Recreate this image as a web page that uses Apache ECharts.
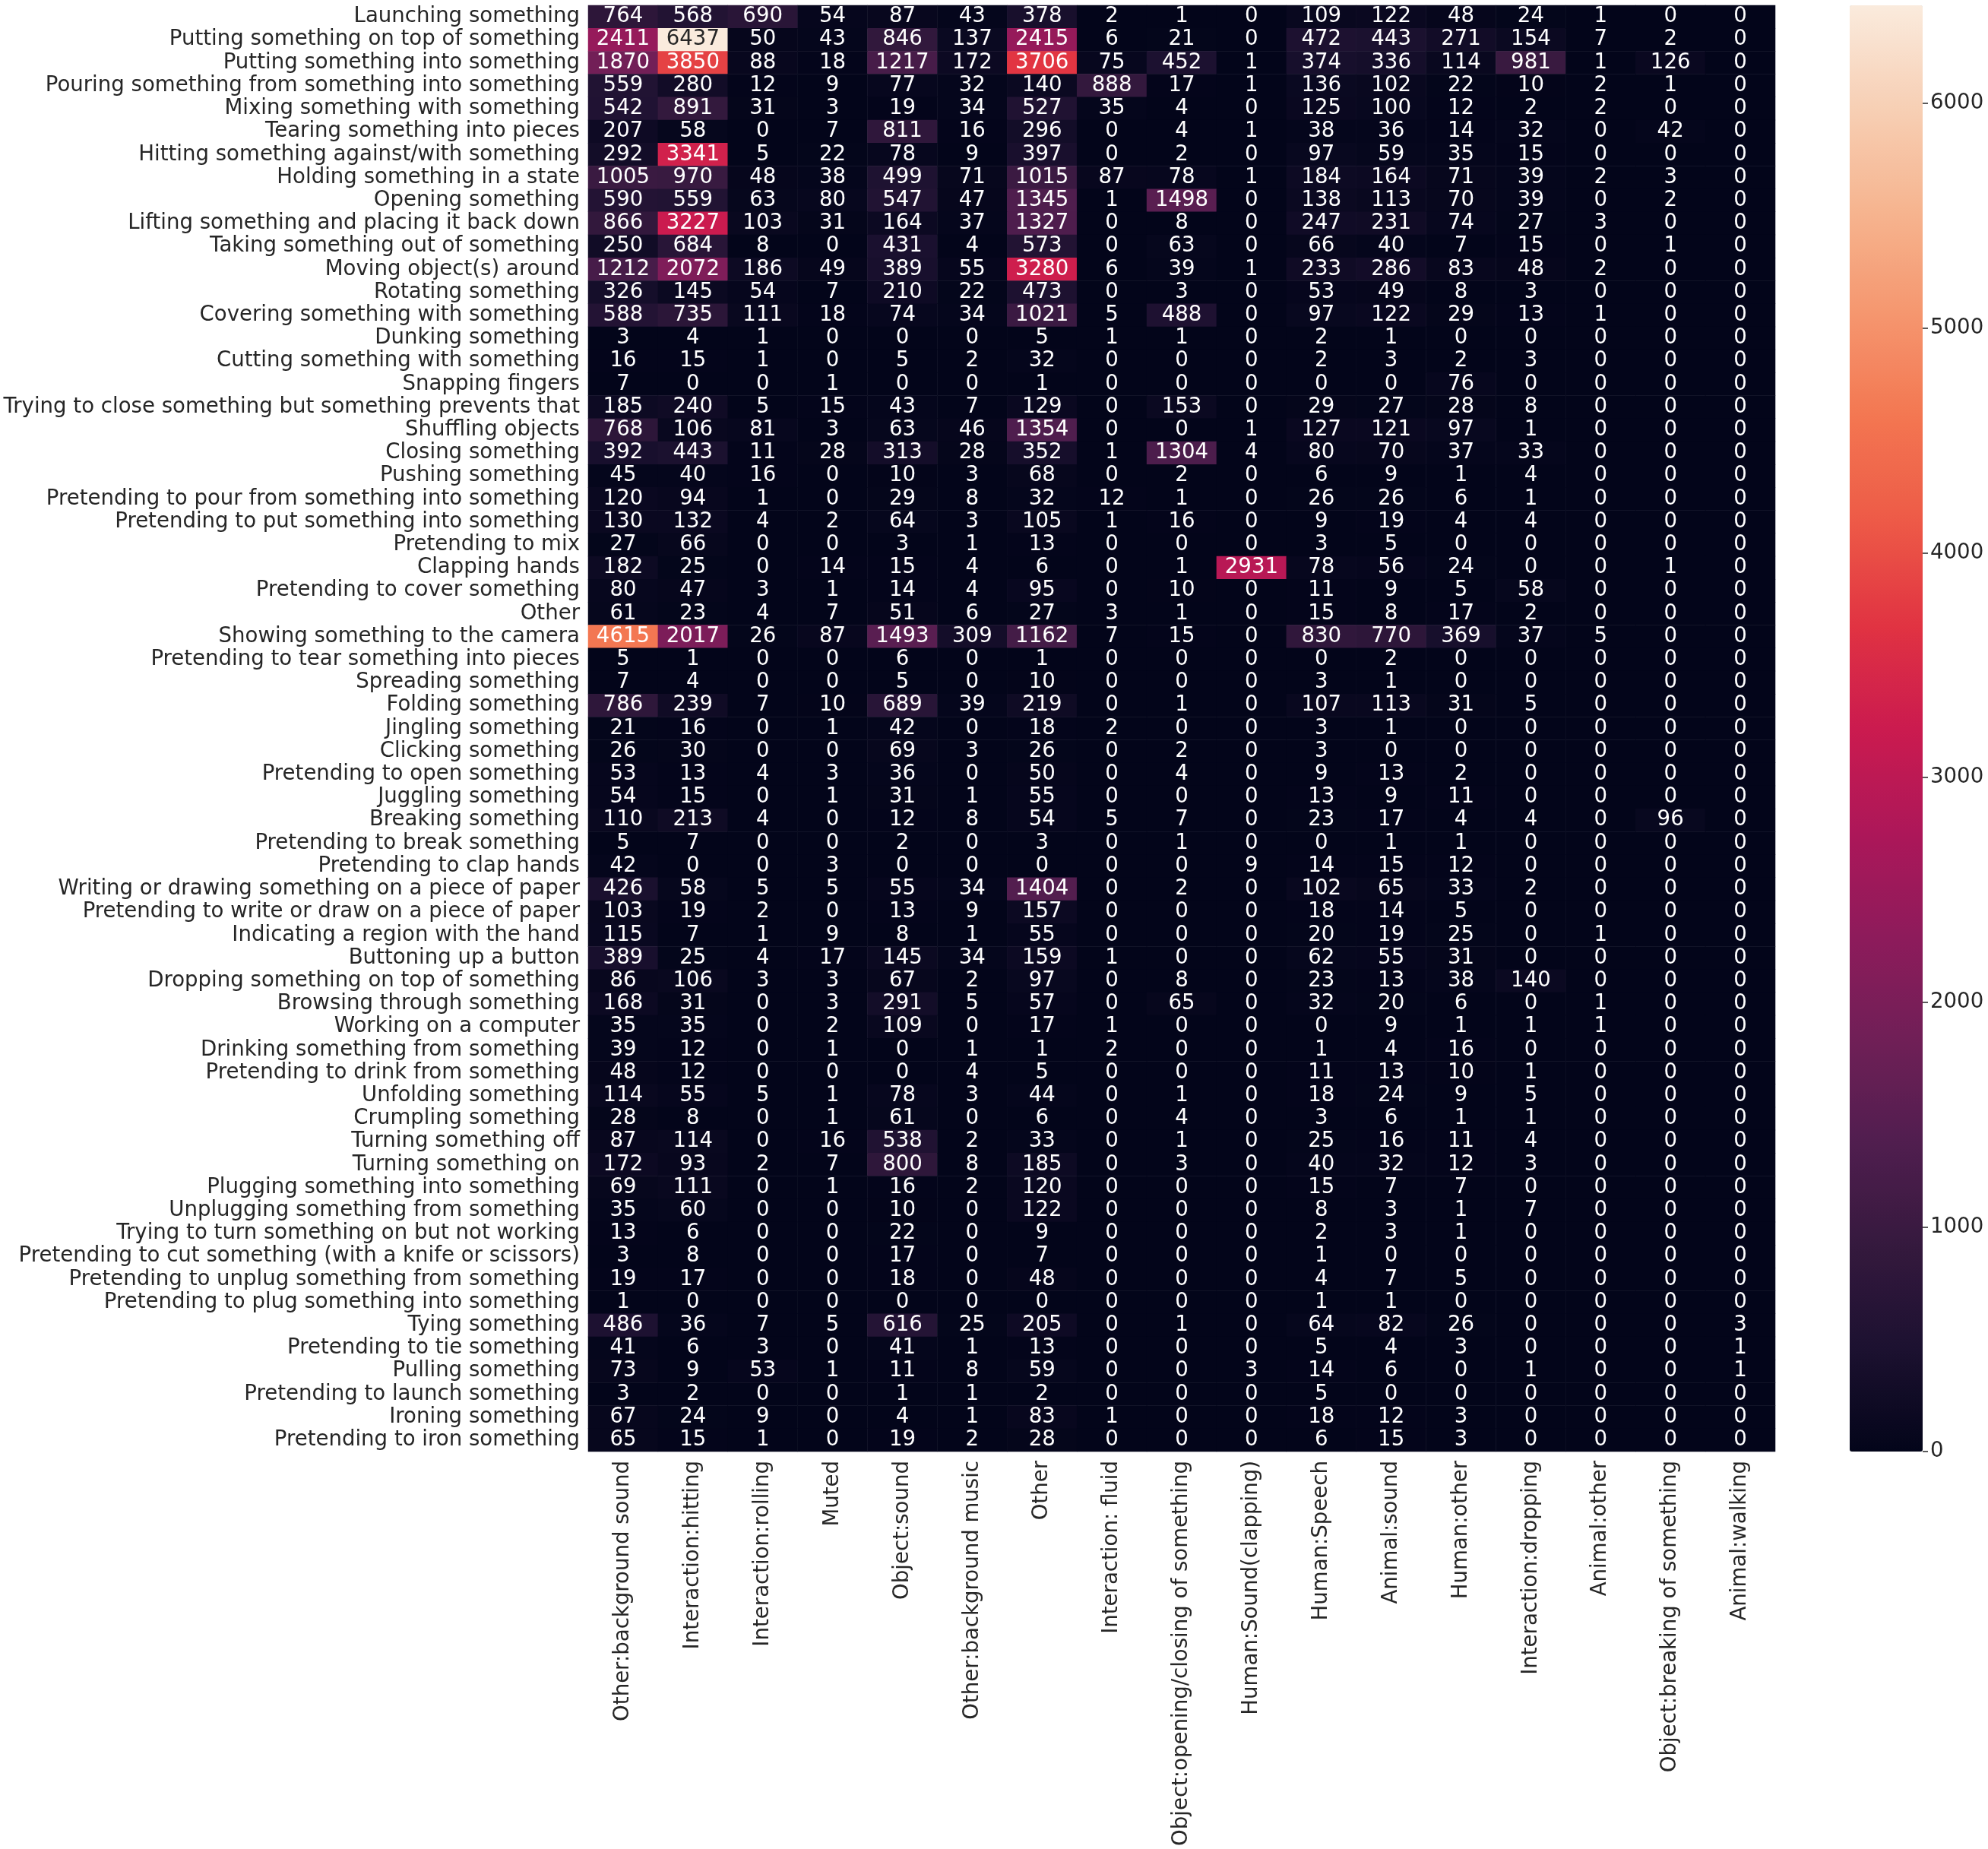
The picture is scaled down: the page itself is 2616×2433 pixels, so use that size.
<!DOCTYPE html>
<html>
<head>
<meta charset="utf-8">
<title>Heatmap</title>
<script src="https://cdn.jsdelivr.net/npm/echarts@6/dist/echarts.min.js"></script>
<style>
  html, body { margin: 0; padding: 0; background: #fff; }
  #chart { width: 2616px; height: 2433px; }
</style>
</head>
<body>
<div id="chart"></div>
<script>
const actions = [
  'Launching something', 'Putting something on top of something', 'Putting something into something',
  'Pouring something from something into something', 'Mixing something with something', 'Tearing something into pieces',
  'Hitting something against/with something', 'Holding something in a state', 'Opening something',
  'Lifting something and placing it back down', 'Taking something out of something', 'Moving object(s) around',
  'Rotating something', 'Covering something with something', 'Dunking something', 'Cutting something with something',
  'Snapping fingers', 'Trying to close something but something prevents that', 'Shuffling objects', 'Closing something',
  'Pushing something', 'Pretending to pour from something into something', 'Pretending to put something into something',
  'Pretending to mix', 'Clapping hands', 'Pretending to cover something', 'Other', 'Showing something to the camera',
  'Pretending to tear something into pieces', 'Spreading something', 'Folding something', 'Jingling something',
  'Clicking something', 'Pretending to open something', 'Juggling something', 'Breaking something',
  'Pretending to break something', 'Pretending to clap hands', 'Writing or drawing something on a piece of paper',
  'Pretending to write or draw on a piece of paper', 'Indicating a region with the hand', 'Buttoning up a button',
  'Dropping something on top of something', 'Browsing through something', 'Working on a computer',
  'Drinking something from something', 'Pretending to drink from something', 'Unfolding something', 'Crumpling something',
  'Turning something off', 'Turning something on', 'Plugging something into something', 'Unplugging something from something',
  'Trying to turn something on but not working', 'Pretending to cut something (with a knife or scissors)',
  'Pretending to unplug something from something', 'Pretending to plug something into something', 'Tying something',
  'Pretending to tie something', 'Pulling something', 'Pretending to launch something', 'Ironing something',
  'Pretending to iron something'
];

const sounds = [
  'Other:background sound', 'Interaction:hitting', 'Interaction:rolling', 'Muted', 'Object:sound',
  'Other:background music', 'Other', 'Interaction: fluid', 'Object:opening/closing of something',
  'Human:Sound(clapping)', 'Human:Speech', 'Animal:sound', 'Human:other', 'Interaction:dropping',
  'Animal:other', 'Object:breaking of something', 'Animal:walking'
];

// one row per action, same order as sounds
const counts = [
  [764, 568, 690, 54, 87, 43, 378, 2, 1, 0, 109, 122, 48, 24, 1, 0, 0],
  [2411, 6437, 50, 43, 846, 137, 2415, 6, 21, 0, 472, 443, 271, 154, 7, 2, 0],
  [1870, 3850, 88, 18, 1217, 172, 3706, 75, 452, 1, 374, 336, 114, 981, 1, 126, 0],
  [559, 280, 12, 9, 77, 32, 140, 888, 17, 1, 136, 102, 22, 10, 2, 1, 0],
  [542, 891, 31, 3, 19, 34, 527, 35, 4, 0, 125, 100, 12, 2, 2, 0, 0],
  [207, 58, 0, 7, 811, 16, 296, 0, 4, 1, 38, 36, 14, 32, 0, 42, 0],
  [292, 3341, 5, 22, 78, 9, 397, 0, 2, 0, 97, 59, 35, 15, 0, 0, 0],
  [1005, 970, 48, 38, 499, 71, 1015, 87, 78, 1, 184, 164, 71, 39, 2, 3, 0],
  [590, 559, 63, 80, 547, 47, 1345, 1, 1498, 0, 138, 113, 70, 39, 0, 2, 0],
  [866, 3227, 103, 31, 164, 37, 1327, 0, 8, 0, 247, 231, 74, 27, 3, 0, 0],
  [250, 684, 8, 0, 431, 4, 573, 0, 63, 0, 66, 40, 7, 15, 0, 1, 0],
  [1212, 2072, 186, 49, 389, 55, 3280, 6, 39, 1, 233, 286, 83, 48, 2, 0, 0],
  [326, 145, 54, 7, 210, 22, 473, 0, 3, 0, 53, 49, 8, 3, 0, 0, 0],
  [588, 735, 111, 18, 74, 34, 1021, 5, 488, 0, 97, 122, 29, 13, 1, 0, 0],
  [3, 4, 1, 0, 0, 0, 5, 1, 1, 0, 2, 1, 0, 0, 0, 0, 0],
  [16, 15, 1, 0, 5, 2, 32, 0, 0, 0, 2, 3, 2, 3, 0, 0, 0],
  [7, 0, 0, 1, 0, 0, 1, 0, 0, 0, 0, 0, 76, 0, 0, 0, 0],
  [185, 240, 5, 15, 43, 7, 129, 0, 153, 0, 29, 27, 28, 8, 0, 0, 0],
  [768, 106, 81, 3, 63, 46, 1354, 0, 0, 1, 127, 121, 97, 1, 0, 0, 0],
  [392, 443, 11, 28, 313, 28, 352, 1, 1304, 4, 80, 70, 37, 33, 0, 0, 0],
  [45, 40, 16, 0, 10, 3, 68, 0, 2, 0, 6, 9, 1, 4, 0, 0, 0],
  [120, 94, 1, 0, 29, 8, 32, 12, 1, 0, 26, 26, 6, 1, 0, 0, 0],
  [130, 132, 4, 2, 64, 3, 105, 1, 16, 0, 9, 19, 4, 4, 0, 0, 0],
  [27, 66, 0, 0, 3, 1, 13, 0, 0, 0, 3, 5, 0, 0, 0, 0, 0],
  [182, 25, 0, 14, 15, 4, 6, 0, 1, 2931, 78, 56, 24, 0, 0, 1, 0],
  [80, 47, 3, 1, 14, 4, 95, 0, 10, 0, 11, 9, 5, 58, 0, 0, 0],
  [61, 23, 4, 7, 51, 6, 27, 3, 1, 0, 15, 8, 17, 2, 0, 0, 0],
  [4615, 2017, 26, 87, 1493, 309, 1162, 7, 15, 0, 830, 770, 369, 37, 5, 0, 0],
  [5, 1, 0, 0, 6, 0, 1, 0, 0, 0, 0, 2, 0, 0, 0, 0, 0],
  [7, 4, 0, 0, 5, 0, 10, 0, 0, 0, 3, 1, 0, 0, 0, 0, 0],
  [786, 239, 7, 10, 689, 39, 219, 0, 1, 0, 107, 113, 31, 5, 0, 0, 0],
  [21, 16, 0, 1, 42, 0, 18, 2, 0, 0, 3, 1, 0, 0, 0, 0, 0],
  [26, 30, 0, 0, 69, 3, 26, 0, 2, 0, 3, 0, 0, 0, 0, 0, 0],
  [53, 13, 4, 3, 36, 0, 50, 0, 4, 0, 9, 13, 2, 0, 0, 0, 0],
  [54, 15, 0, 1, 31, 1, 55, 0, 0, 0, 13, 9, 11, 0, 0, 0, 0],
  [110, 213, 4, 0, 12, 8, 54, 5, 7, 0, 23, 17, 4, 4, 0, 96, 0],
  [5, 7, 0, 0, 2, 0, 3, 0, 1, 0, 0, 1, 1, 0, 0, 0, 0],
  [42, 0, 0, 3, 0, 0, 0, 0, 0, 9, 14, 15, 12, 0, 0, 0, 0],
  [426, 58, 5, 5, 55, 34, 1404, 0, 2, 0, 102, 65, 33, 2, 0, 0, 0],
  [103, 19, 2, 0, 13, 9, 157, 0, 0, 0, 18, 14, 5, 0, 0, 0, 0],
  [115, 7, 1, 9, 8, 1, 55, 0, 0, 0, 20, 19, 25, 0, 1, 0, 0],
  [389, 25, 4, 17, 145, 34, 159, 1, 0, 0, 62, 55, 31, 0, 0, 0, 0],
  [86, 106, 3, 3, 67, 2, 97, 0, 8, 0, 23, 13, 38, 140, 0, 0, 0],
  [168, 31, 0, 3, 291, 5, 57, 0, 65, 0, 32, 20, 6, 0, 1, 0, 0],
  [35, 35, 0, 2, 109, 0, 17, 1, 0, 0, 0, 9, 1, 1, 1, 0, 0],
  [39, 12, 0, 1, 0, 1, 1, 2, 0, 0, 1, 4, 16, 0, 0, 0, 0],
  [48, 12, 0, 0, 0, 4, 5, 0, 0, 0, 11, 13, 10, 1, 0, 0, 0],
  [114, 55, 5, 1, 78, 3, 44, 0, 1, 0, 18, 24, 9, 5, 0, 0, 0],
  [28, 8, 0, 1, 61, 0, 6, 0, 4, 0, 3, 6, 1, 1, 0, 0, 0],
  [87, 114, 0, 16, 538, 2, 33, 0, 1, 0, 25, 16, 11, 4, 0, 0, 0],
  [172, 93, 2, 7, 800, 8, 185, 0, 3, 0, 40, 32, 12, 3, 0, 0, 0],
  [69, 111, 0, 1, 16, 2, 120, 0, 0, 0, 15, 7, 7, 0, 0, 0, 0],
  [35, 60, 0, 0, 10, 0, 122, 0, 0, 0, 8, 3, 1, 7, 0, 0, 0],
  [13, 6, 0, 0, 22, 0, 9, 0, 0, 0, 2, 3, 1, 0, 0, 0, 0],
  [3, 8, 0, 0, 17, 0, 7, 0, 0, 0, 1, 0, 0, 0, 0, 0, 0],
  [19, 17, 0, 0, 18, 0, 48, 0, 0, 0, 4, 7, 5, 0, 0, 0, 0],
  [1, 0, 0, 0, 0, 0, 0, 0, 0, 0, 1, 1, 0, 0, 0, 0, 0],
  [486, 36, 7, 5, 616, 25, 205, 0, 1, 0, 64, 82, 26, 0, 0, 0, 3],
  [41, 6, 3, 0, 41, 1, 13, 0, 0, 0, 5, 4, 3, 0, 0, 0, 1],
  [73, 9, 53, 1, 11, 8, 59, 0, 0, 3, 14, 6, 0, 1, 0, 0, 1],
  [3, 2, 0, 0, 1, 1, 2, 0, 0, 0, 5, 0, 0, 0, 0, 0, 0],
  [67, 24, 9, 0, 4, 1, 83, 1, 0, 0, 18, 12, 3, 0, 0, 0, 0],
  [65, 15, 1, 0, 19, 2, 28, 0, 0, 0, 6, 15, 3, 0, 0, 0, 0]
];

const barTicks = [0, 1000, 2000, 3000, 4000, 5000, 6000];
const maxCount = 6437;

// seaborn "rocket", evenly spaced in 14 steps
const rocket = ['#03051a', '#1c1130', '#35193e', '#511e4f', '#701f57', '#8e1b5b', '#ad1759', '#cb1b4f',
  '#e13342', '#ed5a47', '#f37651', '#f5966e', '#f6b48f', '#f7cfb4', '#faebdd'];

const inkColor = '#262626';
const fontName = '"DejaVu Sans"';
const fontSize = 27.6;

const cells = [];
counts.forEach((row, y) => {
  row.forEach((v, x) => {
    // dark text only on the palest cell
    cells.push({ value: [x, y, v], label: { color: v > maxCount * 0.9 ? inkColor : '#ffffff' } });
  });
});

const chart = echarts.init(document.getElementById('chart'));
chart.setOption({
  animation: false,
  backgroundColor: '#ffffff',
  textStyle: { fontFamily: fontName },
  grid: [
    { left: 774, top: 7, width: 1562, height: 1903 },
    { left: 2434, top: 7, width: 96, height: 1903 }
  ],
  xAxis: [
    {
      type: 'category',
      gridIndex: 0,
      data: sounds,
      axisLine: { show: false },
      axisTick: { show: false },
      splitLine: { show: false },
      axisLabel: { rotate: 90, interval: 0, margin: 12, color: inkColor, fontSize: fontSize, fontFamily: fontName }
    },
    { type: 'category', gridIndex: 1, show: false, data: [] }
  ],
  yAxis: [
    {
      type: 'category',
      gridIndex: 0,
      data: actions,
      inverse: true,
      axisLine: { show: false },
      axisTick: { show: false },
      splitLine: { show: false },
      axisLabel: { interval: 0, margin: 11, padding: [3, 0, 0, 0], color: inkColor, fontSize: fontSize, fontFamily: fontName }
    },
    {
      // only carries the colour bar's ticks
      type: 'value',
      gridIndex: 1,
      position: 'right',
      min: 0,
      max: maxCount,
      axisLine: { show: false },
      splitLine: { show: false },
      axisTick: { show: true, length: 7, customValues: barTicks, lineStyle: { color: inkColor, width: 1.5 } },
      axisLabel: {
        show: true,
        margin: 10,
        customValues: barTicks,
        formatter: (v) => String(v),
        color: inkColor,
        fontSize: fontSize,
        fontFamily: fontName
      }
    }
  ],
  visualMap: {
    type: 'continuous',
    seriesIndex: 0,
    min: 0,
    max: maxCount,
    calculable: false,
    orient: 'vertical',
    left: 2434,
    top: 7,
    padding: 0,
    itemWidth: 96,
    itemHeight: 1903,
    text: null,
    inRange: { color: rocket }
  },
  series: [
    {
      type: 'heatmap',
      xAxisIndex: 0,
      yAxisIndex: 0,
      data: cells,
      itemStyle: { borderWidth: 0 },
      label: { show: true, fontSize: fontSize, fontFamily: fontName, formatter: (p) => String(p.value[2]) }
    },
    { type: 'line', xAxisIndex: 1, yAxisIndex: 1, data: [], silent: true }
  ]
});
</script>
</body>
</html>
